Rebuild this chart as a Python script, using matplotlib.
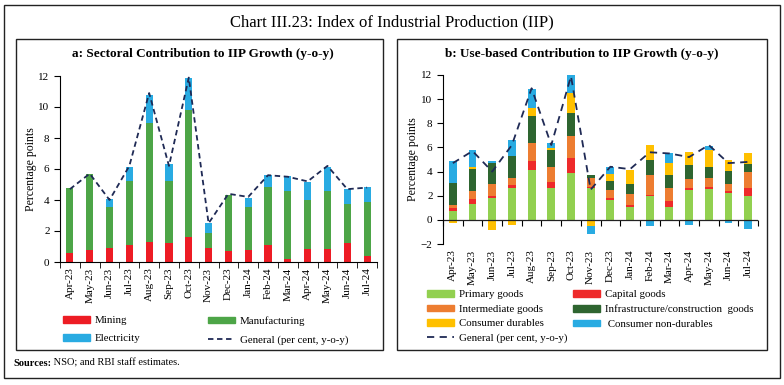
import numpy as np
import matplotlib.pyplot as plt
from matplotlib.patches import Rectangle
from matplotlib.lines import Line2D

months = ['Apr-23', 'May-23', 'Jun-23', 'Jul-23', 'Aug-23', 'Sep-23', 'Oct-23', 'Nov-23',
          'Dec-23', 'Jan-24', 'Feb-24', 'Mar-24', 'Apr-24', 'May-24', 'Jun-24', 'Jul-24']

# panel a: sectoral contribution
mining = [0.6, 0.8, 0.88, 1.1, 1.3, 1.2, 1.6, 0.9, 0.7, 0.8, 1.1, 0.2, 0.85, 0.85, 1.25, 0.4]
manufacturing = [4.2, 4.85, 2.7, 4.1, 7.7, 4.0, 8.2, 1.0, 3.6, 2.75, 3.75, 4.4, 3.15, 3.7, 2.5, 3.5]
electricity = [-0.1, 0.05, 0.5, 0.9, 1.8, 1.1, 2.1, 0.6, 0.05, 0.6, 0.75, 0.95, 1.15, 1.55, 0.95, 0.95]
general = [4.7, 5.7, 4.0, 6.2, 10.9, 6.2, 11.9, 2.5, 4.4, 4.2, 5.6, 5.5, 5.2, 6.2, 4.7, 4.8]

# panel b: use-based contribution
primary = [0.7, 1.3, 1.85, 2.6, 4.15, 2.65, 3.9, 2.65, 1.65, 1.05, 2.0, 1.1, 2.45, 2.55, 2.2, 2.0]
capital = [0.25, 0.45, 0.15, 0.3, 0.75, 0.5, 1.2, 0.05, 0.15, 0.15, 0.05, 0.45, 0.15, 0.2, 0.2, 0.65]
intermediate = [0.3, 0.65, 1.0, 0.6, 1.45, 1.2, 1.85, 0.75, 0.7, 0.95, 1.65, 1.1, 0.75, 0.75, 0.6, 1.3]
infra = [1.8, 1.8, 1.75, 1.75, 2.25, 1.4, 1.9, 0.25, 0.75, 0.85, 1.25, 1.1, 1.2, 0.9, 1.05, 0.65]
durables = [-0.25, 0.15, -0.8, -0.4, 0.7, 0.2, 1.65, -0.55, 0.55, 1.1, 1.25, 0.95, 1.05, 1.35, 0.9, 0.9]
nondurables = [1.85, 1.4, 0.15, 1.4, 1.55, 0.4, 1.5, -0.6, 0.6, 0.05, -0.55, 0.8, -0.4, 0.4, -0.25, -0.75]

plt.rcParams['font.family'] = 'Liberation Serif'
plt.rcParams['font.size'] = 8

navy = '#1F2A55'
red, green, blue = '#ED1C24', '#4DA547', '#29ABE2'
colors_b = ['#92D050', '#EE2A2A', '#ED7D31', '#2E6530', '#FFC000', '#29ABE2']

fig = plt.figure(figsize=(7.84, 3.85), dpi=100)
W, H = 784, 385


def box(x0, y0, x1, y1):
    fig.patches.append(Rectangle((x0 / W, 1 - y1 / H), (x1 - x0) / W, (y1 - y0) / H,
                                 transform=fig.transFigure, fill=False, ec='#222222', lw=1.0))


box(4, 5, 780, 378)
box(16, 39, 383, 350)
box(397, 39, 767, 350)

fig.text(392 / W, 1 - 22 / H, 'Chart III.23: Index of Industrial Production (IIP)',
         ha='center', va='center', fontsize=12)
fig.text(203 / W, 1 - 54 / H, 'a: Sectoral Contribution to IIP Growth (y-o-y)',
         ha='center', va='center', fontsize=9.5, fontweight='bold')
fig.text(582 / W, 1 - 54 / H, 'b: Use-based Contribution to IIP Growth (y-o-y)',
         ha='center', va='center', fontsize=9.5, fontweight='bold')
src = fig.text(13 / W, 1 - 363 / H, 'Sources:', ha='left', va='center',
               fontsize=7.5, fontweight='bold')


def stack(ax, series, colors, width):
    x = np.arange(len(months))
    pos = np.zeros(len(months))
    neg = np.zeros(len(months))
    for vals, c in zip(series, colors):
        v = np.array(vals)
        base = np.where(v >= 0, pos, neg)
        ax.bar(x, v, width, bottom=base, color=c, edgecolor='none')
        pos = pos + np.where(v >= 0, v, 0)
        neg = neg + np.where(v < 0, v, 0)
    return x


def style(ax):
    for s in ['top', 'right']:
        ax.spines[s].set_visible(False)
    ax.set_xlim(-0.5, len(months) - 0.5)
    ax.set_xticks(np.arange(len(months)))
    ax.set_xticklabels(months, rotation=90)
    ax.tick_params(axis='x', length=0, pad=4)
    ax.tick_params(axis='y', direction='out', length=4)
    ax.set_ylabel('Percentage points', fontsize=8.5, labelpad=1)


def column(handles, labels, x, y, spacing):
    leg = fig.legend(handles=handles, labels=labels, loc='upper left',
                     bbox_to_anchor=(x / W, 1 - y / H), frameon=False, fontsize=7.8,
                     handlelength=2.5, handleheight=0.55, handletextpad=0.45,
                     labelspacing=spacing, borderpad=0, borderaxespad=0)
    return leg


def patch(c):
    return Rectangle((0, 0), 1, 1, color=c)


# panel a
axa = fig.add_axes([60 / W, 1 - 262 / H, 317 / W, 186 / H])
x = stack(axa, [mining, manufacturing, electricity], [red, green, blue], 0.36)
axa.plot(x, general, ls=(0, (3, 2)), color=navy, lw=1.3)
axa.set_ylim(0, 12)
axa.set_yticks(range(0, 13, 2))
style(axa)
axa.set_xticks(np.arange(len(months) + 1) - 0.5, minor=True)
axa.tick_params(axis='x', which='minor', length=4, direction='out')

src_rest = axa.annotate(' NSO; and RBI staff estimates.', xy=(1, 0.5), xycoords=src,
                        ha='left', va='center', fontsize=7.5, annotation_clip=False)

column([patch(red), patch(blue)], ['Mining', 'Electricity'], 63, 316, 0.85)
column([patch(green), Line2D([], [], ls=(0, (3, 2)), color=navy, lw=1.3)],
       ['Manufacturing', 'General (per cent, y-o-y)'], 208, 316, 0.85)

# panel b
axb = fig.add_axes([443 / W, 1 - 244 / H, 315 / W, 169 / H])
x = stack(axb, [primary, capital, intermediate, infra, durables, nondurables], colors_b, 0.4)
axb.plot(x, general, ls=(0, (4, 3)), color=navy, lw=1.3)
axb.set_ylim(-2, 12)
axb.set_yticks(range(-2, 13, 2))
style(axb)
axb.spines['bottom'].set_visible(False)
axb.axhline(0, color='#222222', lw=0.9)
sec = axb.secondary_xaxis(0, transform=axb.transData)
sec.spines['bottom'].set_visible(False)
sec.set_xticks(np.arange(len(months) + 1) - 0.5)
sec.set_xticklabels([])
sec.tick_params(axis='x', length=4, direction='out')

column([patch(colors_b[0]), patch(colors_b[2]), patch(colors_b[4]),
        Line2D([], [], ls=(0, (4, 3)), color=navy, lw=1.3)],
       ['Primary goods', 'Intermediate goods', 'Consumer durables', 'General (per cent, y-o-y)'],
       427, 290, 0.5)
column([patch(colors_b[1]), patch(colors_b[3]), patch(colors_b[5])],
       ['Capital goods', 'Infrastructure/construction  goods', ' Consumer non-durables'],
       573, 290, 0.5)

fig.savefig('out.png', dpi=100)
